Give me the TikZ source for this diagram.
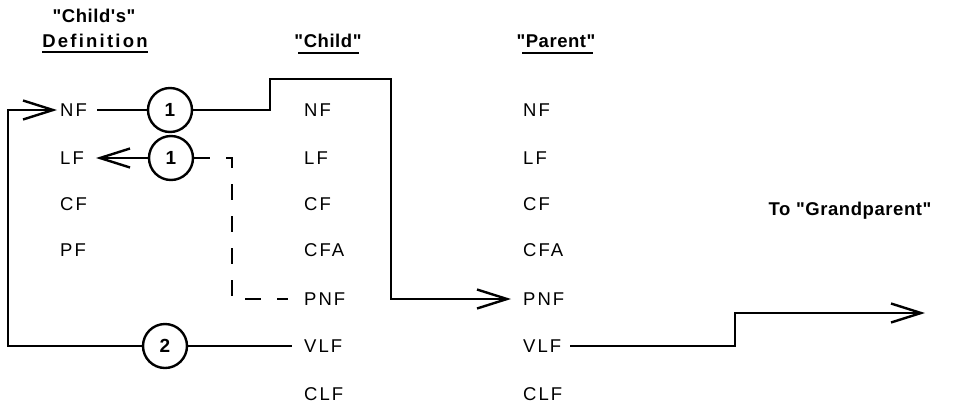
\documentclass[tikz,border=0pt]{standalone}
\usepackage{fontspec}
\setmainfont{Liberation Sans}
\newfontfamily\lblfont[LetterSpace=11]{Liberation Sans}
\newfontfamily\hdrfont[LetterSpace=3]{Liberation Sans}
\usetikzlibrary{arrows.meta}
\tikzset{
  lbl/.style={anchor=west,inner sep=0pt,font=\lblfont\fontsize{18.5}{21}\selectfont},
  hdr/.style={anchor=base,inner sep=0pt,font=\hdrfont\bfseries\fontsize{18.5}{21}\selectfont},
  circ/.style={circle,draw,line width=2.4pt,minimum size=44pt,inner sep=0pt,font=\bfseries\fontsize{19}{21}\selectfont},
  wire/.style={line width=2.4pt},
  arr/.style={wire,-{Straight Barb[length=30pt,width=19pt,line width=2.4pt]}},
  dashwire/.style={wire,dash pattern=on 16pt off 16pt},
  ul/.style={line width=1.8pt}
}
\begin{document}
\begin{tikzpicture}[x=1pt,y=-1pt]
\useasboundingbox[fill=white] (0,0) rectangle (953,408);
% headers
\node[hdr] (hChilds) at (94,22) {"Child's"};
\node[hdr] (hDef) at (95,47) {\addfontfeature{LetterSpace=12}Definition};
\node[hdr] (hChild) at (328,47) {"Child"};
\node[hdr] (hParent) at (556,47) {"Parent"};
\node[hdr] (hGP) at (850,215) {To "Grandparent"};
\draw[ul] ([yshift=-5pt]hDef.base west) -- ([yshift=-5pt]hDef.base east);
\draw[ul] ([yshift=-6pt,xshift=4pt]hChild.base west) -- ([yshift=-6pt,xshift=-3pt]hChild.base east);
\draw[ul] ([yshift=-6pt,xshift=6pt]hParent.base west) -- ([yshift=-6pt,xshift=-3pt]hParent.base east);
% definition column
\node[lbl] (dNF) at (60,110) {NF};
\node[lbl] (dLF) at (60,158) {LF};
\node[lbl] (dCF) at (60,204) {CF};
\node[lbl] (dPF) at (60,250) {PF};
% child column
\node[lbl] (cNF) at (304,110) {NF};
\node[lbl] (cLF) at (304,158) {LF};
\node[lbl] (cCF) at (304,204) {CF};
\node[lbl] (cCFA) at (304,250) {CFA};
\node[lbl] (cPNF) at (304,299) {PNF};
\node[lbl] (cVLF) at (304,346) {VLF};
\node[lbl] (cCLF) at (304,394) {CLF};
% parent column
\node[lbl] (pNF) at (523,110) {NF};
\node[lbl] (pLF) at (523,158) {LF};
\node[lbl] (pCF) at (523,204) {CF};
\node[lbl] (pCFA) at (523,250) {CFA};
\node[lbl] (pPNF) at (523,299) {PNF};
\node[lbl] (pVLF) at (523,346) {VLF};
\node[lbl] (pCLF) at (523,394) {CLF};
% circles
\node[circ] (c1a) at (170,110) {1};
\node[circ] (c1b) at (171,158) {1};
\node[circ] (c2) at (165,346) {2};
% free end
\coordinate (gp) at (925,313);
% connectors
\draw[wire] ([xshift=10pt]dNF.east) -- (c1a);
\draw[arr,shorten >=12pt] (c1a) -- (270,110) |- (391,79) |- (pPNF.west);
\draw[arr,shorten >=3pt] (c2) -- (8,346) |- (dNF.west);
\draw[wire,shorten >=12pt] (c2) -- (cVLF.west);
\draw[arr,shorten >=12pt] (c1b) -- (dLF.east);
\draw[dashwire,shorten >=16pt] (c1b) -- (232,158) |- (cPNF.west);
\draw[arr,shorten <=9pt] (pVLF.east) -- (735,346) |- (gp);
\end{tikzpicture}
\end{document}
